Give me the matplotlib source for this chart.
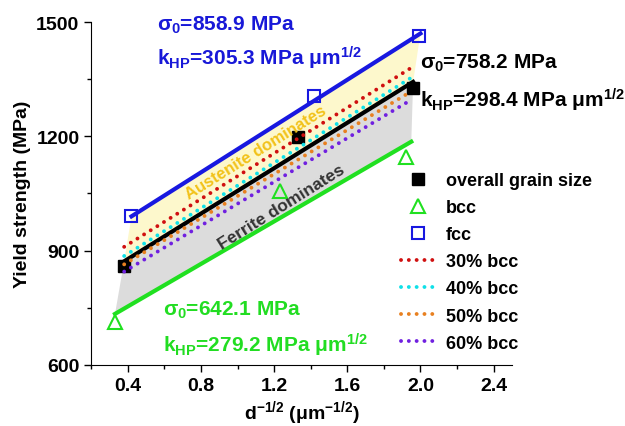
import matplotlib.pyplot as plt
from matplotlib.ticker import MultipleLocator

plt.rcParams['font.family'] = ['Liberation Sans', 'DejaVu Sans']
plt.rcParams['font.weight'] = 'bold'
plt.rcParams['mathtext.fontset'] = 'custom'
plt.rcParams['mathtext.rm'] = 'Liberation Sans:bold'
plt.rcParams['mathtext.it'] = 'Liberation Sans:bold'
plt.rcParams['mathtext.bf'] = 'Liberation Sans:bold'

# measured points: d^-1/2 (um^-1/2) vs yield strength (MPa)
overall_x = [0.38, 1.33, 1.96]
overall_y = [860, 1198, 1328]
bcc_x = [0.33, 1.23, 1.92]
bcc_y = [712, 1056, 1146]
fcc_x = [0.42, 1.42, 1.99]
fcc_y = [990, 1307, 1464]

# Hall-Petch fit lines (end points)
fit_overall_x = [0.38, 1.96]
fit_overall_y = [872, 1343]
fit_bcc_x = [0.33, 1.95]
fit_bcc_y = [734, 1186]
fit_fcc_x = [0.42, 2.00]
fit_fcc_y = [990, 1470]

# rule-of-mixture lines
mix_x = [0.38, 1.95]
mix_labels = ['30% bcc', '40% bcc', '50% bcc', '60% bcc']
mix_30 = [910, 1380]
mix_40 = [886, 1354]
mix_50 = [864, 1318]
mix_60 = [845, 1296]
mix_colors = ['#d01010', '#10e0e8', '#e88020', '#7020e0']

fig = plt.figure(figsize=(6.25, 4.27), dpi=100)
ax = fig.add_axes([0.146, 0.143, 0.673, 0.803])

# shaded regions
ax.fill(fit_fcc_x + fit_overall_x[::-1], fit_fcc_y + fit_overall_y[::-1],
        color='#fdf8cc', lw=0, zorder=1)
ax.fill(fit_overall_x + fit_bcc_x[::-1], fit_overall_y + fit_bcc_y[::-1],
        color='#dcdcdc', lw=0, zorder=1)

ax.plot(fit_fcc_x, fit_fcc_y, color='#1818e0', lw=3, zorder=3)
ax.plot(fit_bcc_x, fit_bcc_y, color='#20e020', lw=3, zorder=3)
ax.plot(fit_overall_x, fit_overall_y, color='black', lw=3, zorder=3)

ax.plot(overall_x, overall_y, 's', color='black', ms=8, ls='none',
        label='overall grain size', zorder=4)
ax.plot(bcc_x, bcc_y, '^', mfc='none', mec='#20e020', mew=1.5, ms=10,
        ls='none', label='bcc', zorder=4)
ax.plot(fcc_x, fcc_y, 's', mfc='none', mec='#1818e0', mew=1.5, ms=8,
        ls='none', label='fcc', zorder=4)

for ys, lab, c in zip([mix_30, mix_40, mix_50, mix_60], mix_labels, mix_colors):
    ax.plot(mix_x, ys, ls=(0, (0.01, 2.0)), color=c, lw=2.8,
            dash_capstyle='round', label=lab, zorder=5)

ax.text(1.10, 1160, 'Austenite dominates', color='#f2c21a', fontsize=12,
        rotation=32, ha='center', va='center', zorder=6)
ax.text(1.24, 1015, 'Ferrite dominates', color='#333333', fontsize=12.5,
        rotation=32, ha='center', va='center', zorder=6)

ax.set_xlim(0.2, 2.5)
ax.set_ylim(600, 1500)
ax.xaxis.set_major_locator(MultipleLocator(0.4))
ax.xaxis.set_minor_locator(MultipleLocator(0.2))
ax.yaxis.set_major_locator(MultipleLocator(300))
ax.yaxis.set_minor_locator(MultipleLocator(150))
ax.set_xticks([0.4, 0.8, 1.2, 1.6, 2.0, 2.4])
ax.set_xticklabels(['0.4', '0.8', '1.2', '1.6', '2.0', '2.4'])
ax.tick_params(which='major', length=5, width=1, labelsize=14)
ax.tick_params(which='minor', length=3, width=1)
ax.spines['top'].set_visible(False)
ax.spines['right'].set_visible(False)

ax.set_ylabel('Yield strength (MPa)', fontsize=14, fontweight='bold', labelpad=4)
ax.set_xlabel(r'd$^{-1/2}$ ($\mu$m$^{-1/2}$)', fontsize=14, fontweight='bold', labelpad=3)

blue = '#1818d8'
green = '#22dd22'
fig.text(157 / 625, 1 - 25 / 427, r'$\sigma_0$=858.9 MPa', color=blue,
         fontsize=15, va='center')
fig.text(157 / 625, 1 - 58 / 427, r'k$_{HP}$=305.3 MPa $\mu$m$^{1/2}$', color=blue,
         fontsize=15, va='center')
fig.text(420 / 625, 1 - 63 / 427, r'$\sigma_0$=758.2 MPa', color='black',
         fontsize=15, va='center')
fig.text(420 / 625, 1 - 100 / 427, r'k$_{HP}$=298.4 MPa $\mu$m$^{1/2}$', color='black',
         fontsize=15, va='center')
fig.text(163 / 625, 1 - 310 / 427, r'$\sigma_0$=642.1 MPa', color=green,
         fontsize=15, va='center')
fig.text(163 / 625, 1 - 345 / 427, r'k$_{HP}$=279.2 MPa $\mu$m$^{1/2}$', color=green,
         fontsize=15, va='center')

ax.legend(loc='upper left', bbox_to_anchor=(401 / 625, 1 - 173 / 427),
          bbox_transform=fig.transFigure, frameon=False, fontsize=13,
          handlelength=1.9, handletextpad=0.6, labelspacing=0.56,
          borderpad=0, borderaxespad=0)

fig.savefig('out.png', dpi=100)
